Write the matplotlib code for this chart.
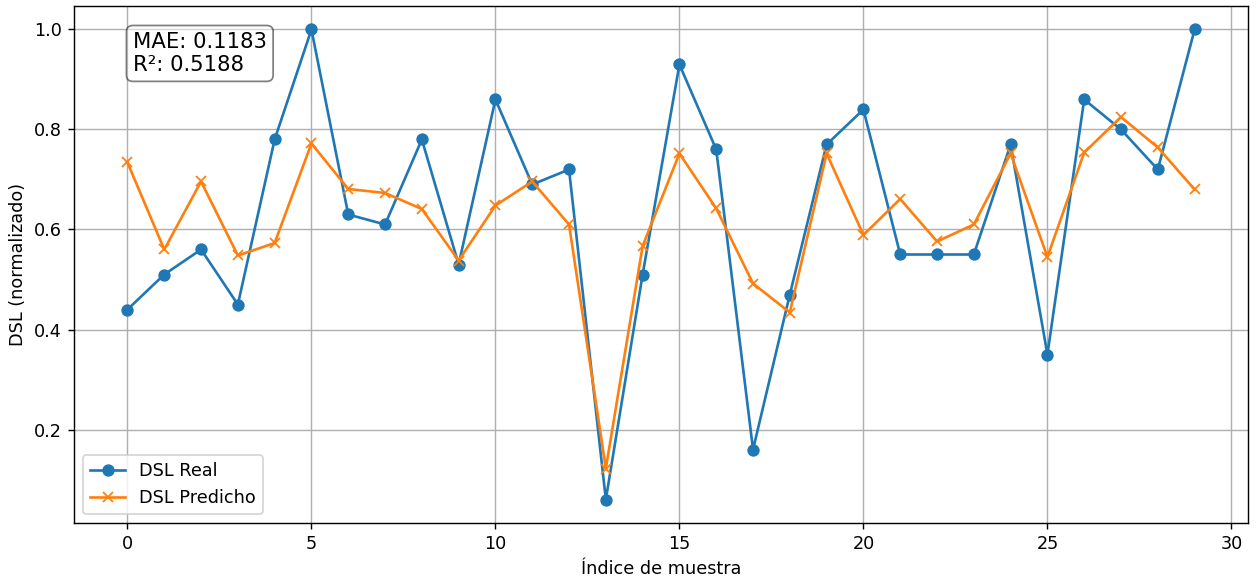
import numpy as np
import matplotlib.pyplot as plt

dsl_real = [0.44, 0.51, 0.56, 0.45, 0.78, 1.00, 0.63, 0.61, 0.78, 0.53,
            0.86, 0.69, 0.72, 0.06, 0.51, 0.93, 0.76, 0.16, 0.47, 0.77,
            0.84, 0.55, 0.55, 0.55, 0.77, 0.35, 0.86, 0.80, 0.72, 1.00]
dsl_pred = [0.734, 0.560, 0.696, 0.548, 0.573, 0.772, 0.681, 0.673, 0.641, 0.538,
            0.648, 0.696, 0.610, 0.122, 0.567, 0.752, 0.642, 0.492, 0.434, 0.752,
            0.589, 0.661, 0.576, 0.610, 0.752, 0.545, 0.754, 0.825, 0.764, 0.680]
mae = 0.1183
r2 = 0.5188

dpi = 127
fig, ax = plt.subplots(figsize=(1256 / dpi, 581 / dpi), dpi=dpi)
fig.subplots_adjust(left=0.059, right=0.9936, top=0.9897, bottom=0.0998)

idx = np.arange(len(dsl_real))
ax.plot(idx, dsl_real, marker='o', label='DSL Real')
ax.plot(idx, dsl_pred, marker='x', label='DSL Predicho')

ax.text(0.05, 0.95, f'MAE: {mae:.4f}\nR²: {r2:.4f}', transform=ax.transAxes,
        fontsize=12, va='top', bbox=dict(boxstyle='round', facecolor='white', alpha=0.5))

ax.set_xlabel('Índice de muestra')
ax.set_ylabel('DSL (normalizado)')
ax.legend(loc='lower left')
ax.grid(True)

fig.savefig('out.png', dpi=dpi)
